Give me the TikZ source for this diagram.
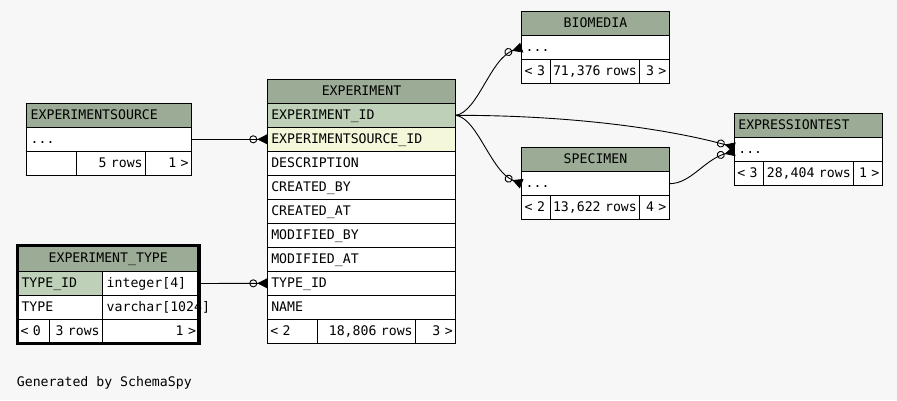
\documentclass[tikz,border=0pt]{standalone}
\usepackage{fontspec}
\setmonofont{DejaVu Sans Mono}
\usepackage{tikz}
\definecolor{pageGray}{HTML}{F7F7F7}
\definecolor{headGreen}{HTML}{9BAB96}
\definecolor{keyGreen}{HTML}{BED1B8}
\definecolor{indexYellow}{HTML}{F4F7DA}
\usetikzlibrary{arrows.meta, positioning}

\begin{document}
\begin{tikzpicture}[
    x=1pt, y=-1pt,
    font=\ttfamily\fontsize{13.2}{16}\selectfont,
    cell/.style={draw, line width=1pt, fill=white, anchor=north west, outer sep=0pt, inner xsep=4pt, inner ysep=0pt, minimum height=24pt, text height=9.6pt, text depth=2pt, align=left, text width=#1},
    head/.style={cell=#1, fill=headGreen, align=center},
    pkcell/.style={cell=#1, fill=keyGreen},
    fkcell/.style={cell=#1, fill=indexYellow},
    foot/.style={cell=#1, inner xsep=3pt},
    rowcount/.style={foot=#1, align=right},
    relation/.style={line width=0.9pt, -{Circle[open, length=8pt, width=8pt] Triangle[reversed, length=10pt, width=10pt]}}
]
    \useasboundingbox (0,0) rectangle (897,400);
    \fill[pageGray] (0,0) rectangle (897,400);

    \node[head=180.4pt] (experiment) at (267.3,79.3) {EXPERIMENT};
    \node[pkcell=180.4pt, below=0pt of experiment] (expid) {EXPERIMENT\_ID};
    \node[fkcell=180.4pt, below=0pt of expid] (expsrcid) {EXPERIMENTSOURCE\_ID};
    \node[cell=180.4pt, below=0pt of expsrcid] (expdesc) {DESCRIPTION};
    \node[cell=180.4pt, below=0pt of expdesc] (expcreby) {CREATED\_BY};
    \node[cell=180.4pt, below=0pt of expcreby] (expcreat) {CREATED\_AT};
    \node[cell=180.4pt, below=0pt of expcreat] (expmodby) {MODIFIED\_BY};
    \node[cell=180.4pt, below=0pt of expmodby] (expmodat) {MODIFIED\_AT};
    \node[cell=180.4pt, below=0pt of expmodat] (exptypeid) {TYPE\_ID};
    \node[cell=180.4pt, below=0pt of exptypeid] (expname) {NAME};
    \node[foot=44pt] (expleft) at (expname.south west) {< 2};
    \node[rowcount=92.4pt, right=0pt of expleft] (exprows) {\mbox{18,806 rows}};
    \node[rowcount=34pt, right=0pt of exprows] (expright) {3 >};

    \node[head=157pt, align=left] (source) at (26.7,103.3) {EXPERIMENTSOURCE};
    \node[cell=157pt, below=0pt of source] (srcdots) {...};
    \node[foot=43.3pt] (srcleft) at (srcdots.south west) {};
    \node[rowcount=63.7pt, right=0pt of srcleft] (srcrows) {\mbox{5 rows}};
    \node[rowcount=40pt, right=0pt of srcrows] (srcright) {1 >};

    \node[head=173.5pt, minimum height=26pt] (typetable) at (17.5,245.5) {EXPERIMENT\_TYPE};
    \node[pkcell=77.2pt] (typeid) at (typetable.south west) {TYPE\_ID};
    \node[cell=88.3pt, right=0pt of typeid] (typeidtype) {integer[4]};
    \node[cell=77.2pt, below=0pt of typeid] (typename) {TYPE};
    \node[cell=88.3pt, right=0pt of typename] (typenametype) {\mbox{varchar[1024]}};
    \node[foot=25.8pt] (typeleft) at (typename.south west) {\mbox{< 0}};
    \node[rowcount=47.4pt, right=0pt of typeleft] (typerows) {\mbox{3 rows}};
    \node[rowcount=90.3pt, right=0pt of typerows] (typeright) {1 >};
    \draw[line width=3.5pt] (typetable.north west) rectangle (typeright.south east);

    \node[head=139.6pt] (biomedia) at (521.7,11.7) {BIOMEDIA};
    \node[cell=139.6pt, below=0pt of biomedia] (biodots) {...};
    \node[foot=22.3pt] (bioleft) at (biodots.south west) {\mbox{< 3}};
    \node[rowcount=83.3pt, right=0pt of bioleft] (biorows) {\mbox{71,376 rows}};
    \node[rowcount=24pt, right=0pt of biorows] (bioright) {\mbox{3 >}};

    \node[head=139.6pt] (specimen) at (521.7,147.7) {SPECIMEN};
    \node[cell=139.6pt, below=0pt of specimen] (specdots) {...};
    \node[foot=22.3pt] (specleft) at (specdots.south west) {\mbox{< 2}};
    \node[rowcount=83.3pt, right=0pt of specleft] (specrows) {\mbox{13,622 rows}};
    \node[rowcount=24pt, right=0pt of specrows] (specright) {\mbox{4 >}};

    \node[head=140pt, align=left] (exprtest) at (734.3,113.3) {EXPRESSIONTEST};
    \node[cell=140pt, below=0pt of exprtest] (exprdots) {...};
    \node[foot=23.4pt] (exprleft) at (exprdots.south west) {\mbox{< 3}};
    \node[rowcount=84pt, right=0pt of exprleft] (exprrows) {\mbox{28,404 rows}};
    \node[rowcount=22.6pt, right=0pt of exprrows] (exprright) {\mbox{1 >}};

    \node[anchor=base west, inner sep=0pt] (credit) at (16.7,386) {Generated by SchemaSpy};

    \draw[relation] (srcdots.east) -- (expsrcid.west);
    \draw[relation] (typeidtype.east) -- (exptypeid.west);
    \draw[relation] (expid.east) .. controls +(22,-3) and +(-31,10) .. (biodots.west);
    \draw[relation] (expid.east) .. controls +(22,3) and +(-31,-12) .. (specdots.west);
    \draw[relation] (expid.east) .. controls +(150,0) and +(-35,-10) .. ([yshift=2pt]exprdots.west);
    \draw[relation] (specdots.east) .. controls +(22,0) and +(-30,8) .. ([yshift=-2pt]exprdots.west);
\end{tikzpicture}
\end{document}
